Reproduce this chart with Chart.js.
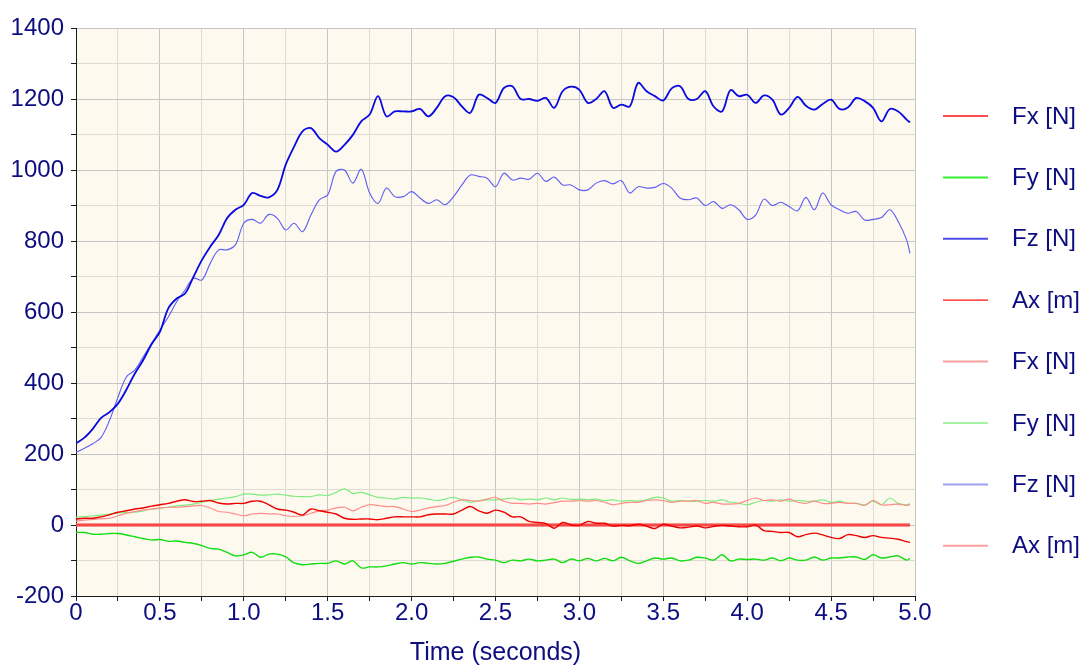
<!DOCTYPE html>
<html lang="en">
<head>
<meta charset="UTF-8">
<title>Force plot</title>
<script src="https://cdn.jsdelivr.net/npm/chart.js"></script>
<style>
  html, body { margin: 0; padding: 0; background: #fff; }
  .wrap { width: 1088px; height: 668px; }
</style>
</head>
<body>
<div class="wrap"><canvas id="forceChart" width="1088" height="668"></canvas></div>
<script>
// time axis (seconds)
const times = [
  0, 0.05, 0.1, 0.15, 0.2, 0.25, 0.3, 0.35, 0.4, 0.45,
  0.5, 0.55, 0.6, 0.65, 0.7, 0.75, 0.8, 0.85, 0.9, 0.95,
  1.0, 1.05, 1.1, 1.15, 1.2, 1.25, 1.3, 1.35, 1.4, 1.45,
  1.5, 1.55, 1.6, 1.65, 1.7, 1.75, 1.8, 1.85, 1.9, 1.95,
  2.0, 2.05, 2.1, 2.15, 2.2, 2.25, 2.3, 2.35, 2.4, 2.45,
  2.5, 2.55, 2.6, 2.65, 2.7, 2.75, 2.8, 2.85, 2.9, 2.95,
  3.0, 3.05, 3.1, 3.15, 3.2, 3.25, 3.3, 3.35, 3.4, 3.45,
  3.5, 3.55, 3.6, 3.65, 3.7, 3.75, 3.8, 3.85, 3.9, 3.95,
  4.0, 4.05, 4.1, 4.15, 4.2, 4.25, 4.3, 4.35, 4.4, 4.45,
  4.5, 4.55, 4.6, 4.65, 4.7, 4.75, 4.8, 4.85, 4.9, 4.95, 4.97
];

// first run
const fx1 = [
  17, 19, 19, 23, 29, 36, 40, 45, 48, 53,
  57, 61, 67, 71, 66, 67, 69, 62, 59, 61,
  61, 67, 67, 57, 45, 42, 36, 28, 45, 40,
  36, 31, 19, 16, 17, 17, 15, 19, 23, 23,
  23, 23, 29, 31, 31, 31, 42, 52, 40, 33,
  42, 36, 23, 23, 10, 7, 4, -9, 7, 0,
  -1, 10, 5, 5, -3, -1, -2, 2, -3, -10,
  2, -3, -8, -6, -3, -8, -4, -1, -3, -5,
  -5, 0, -16, -18, -21, -21, -33, -27, -23, -28,
  -35, -38, -27, -30, -35, -30, -35, -37, -40, -47, -49
];
const fy1 = [
  -21, -21, -26, -26, -24, -24, -28, -33, -38, -42,
  -41, -46, -45, -49, -52, -58, -66, -68, -77, -87,
  -84, -77, -91, -82, -82, -90, -107, -112, -110, -108,
  -108, -101, -110, -101, -121, -118, -118, -115, -110, -106,
  -110, -106, -108, -110, -108, -102, -96, -91, -90, -96,
  -99, -106, -99, -101, -96, -101, -99, -96, -106, -96,
  -101, -94, -101, -94, -101, -91, -101, -108, -101, -93,
  -96, -93, -101, -99, -91, -93, -99, -84, -101, -96,
  -97, -96, -99, -93, -101, -93, -99, -99, -90, -99,
  -93, -93, -90, -90, -97, -84, -93, -90, -87, -99, -94
];
const fz1 = [
  230, 246, 271, 302, 318, 342, 381, 426, 464, 509,
  544, 610, 638, 652, 699, 746, 784, 817, 864, 888,
  902, 935, 927, 923, 944, 1015, 1066, 1109, 1118, 1090,
  1071, 1052, 1071, 1099, 1137, 1156, 1208, 1151, 1165, 1165,
  1165, 1172, 1151, 1175, 1208, 1205, 1179, 1161, 1212, 1203,
  1189, 1231, 1236, 1200, 1200, 1195, 1203, 1175, 1222, 1235,
  1226, 1189, 1200, 1222, 1175, 1184, 1179, 1245, 1222, 1208,
  1196, 1230, 1236, 1200, 1200, 1222, 1179, 1165, 1225, 1208,
  1212, 1189, 1210, 1198, 1156, 1175, 1206, 1181, 1170, 1186,
  1198, 1172, 1176, 1203, 1194, 1175, 1137, 1172, 1165, 1142, 1134
];

// second run
const fx2 = [
  10, 14, 16, 18, 19, 26, 33, 38, 42, 45,
  48, 50, 50, 52, 54, 55, 48, 38, 36, 31,
  26, 31, 33, 31, 31, 26, 24, 26, 33, 40,
  42, 48, 50, 40, 50, 57, 55, 52, 52, 45,
  38, 42, 48, 52, 55, 64, 71, 69, 67, 73,
  78, 67, 61, 61, 59, 61, 59, 63, 67, 67,
  69, 67, 69, 64, 57, 61, 64, 64, 69, 71,
  69, 64, 67, 67, 69, 61, 64, 59, 59, 61,
  69, 76, 69, 71, 67, 73, 64, 61, 67, 61,
  61, 64, 61, 61, 55, 69, 57, 57, 59, 55, 58
];
const fy2 = [
  22, 24, 26, 28, 31, 34, 35, 36, 40, 45,
  47, 50, 54, 56, 59, 64, 69, 73, 76, 80,
  87, 87, 84, 85, 87, 84, 81, 80, 80, 85,
  83, 92, 102, 89, 92, 85, 78, 76, 73, 78,
  76, 76, 73, 69, 73, 78, 71, 64, 69, 71,
  71, 73, 76, 71, 73, 71, 76, 71, 76, 72,
  73, 71, 73, 69, 71, 67, 69, 67, 71, 78,
  76, 67, 69, 67, 67, 69, 67, 71, 64, 61,
  57, 64, 69, 67, 71, 67, 69, 67, 67, 71,
  64, 67, 61, 61, 57, 67, 57, 76, 61, 57, 60
];
const fz2 = [
  205, 216, 229, 247, 295, 360, 417, 436, 473, 511,
  549, 586, 629, 662, 695, 690, 737, 775, 775, 789,
  850, 861, 850, 875, 864, 831, 850, 826, 873, 916,
  930, 996, 1000, 963, 1002, 935, 906, 949, 925, 925,
  939, 921, 906, 916, 902, 925, 958, 986, 982, 977,
  953, 991, 972, 977, 974, 991, 968, 980, 958, 958,
  944, 944, 963, 970, 961, 970, 935, 953, 949, 951,
  962, 949, 921, 916, 921, 900, 911, 892, 902, 888,
  861, 873, 918, 900, 909, 897, 885, 923, 888, 935,
  902, 888, 878, 883, 859, 861, 866, 888, 855, 803, 765
];

// Ax stays flat at zero for both runs
const axTimes = [0, 4.97];
const ax1 = [0, 0];
const ax2 = [0, 0];

const seriesNames = ['Fx [N]', 'Fy [N]', 'Fz [N]', 'Ax [m]', 'Fx [N]', 'Fy [N]', 'Fz [N]', 'Ax [m]'];

const navy = '#0d0d80';
const fontFam = 'Arial, "Liberation Sans", sans-serif';

function pts(xs, ys) {
  return ys.map((v, i) => ({ x: xs[i], y: v }));
}

function line(label, xs, ys, color, width, legendColor, legendWidth) {
  return {
    label: label,
    data: pts(xs, ys),
    borderColor: color,
    borderWidth: width,
    pointRadius: 0,
    tension: 0.35,
    fill: false,
    legendColor: legendColor,
    legendWidth: legendWidth
  };
}

// cream plot background
const plotBg = {
  id: 'plotBg',
  beforeDraw(chart) {
    const { ctx, chartArea: a } = chart;
    ctx.save();
    ctx.fillStyle = '#ffffff';
    ctx.fillRect(0, 0, chart.width, chart.height);
    ctx.fillStyle = '#fdf9ee';
    ctx.fillRect(a.left, a.top, a.right - a.left, a.bottom - a.top);
    ctx.restore();
  }
};

// legend down the right side
const sideLegend = {
  id: 'sideLegend',
  afterDraw(chart) {
    const ctx = chart.ctx;
    ctx.save();
    ctx.font = '24px ' + fontFam;
    ctx.textBaseline = 'middle';
    ctx.fillStyle = navy;
    chart.data.datasets.forEach((ds, i) => {
      const y = 116 + i * 61.4;
      ctx.beginPath();
      ctx.strokeStyle = ds.legendColor;
      ctx.lineWidth = ds.legendWidth;
      ctx.moveTo(943, y);
      ctx.lineTo(988, y);
      ctx.stroke();
      ctx.fillText(ds.label, 1012, y + 1);
    });
    ctx.restore();
  }
};

const datasets = [
  line(seriesNames[0], times, fx1, '#ee0000', 1.4, '#ff1010', 1.3),
  line(seriesNames[1], times, fy1, '#11dd11', 1.4, '#33ee33', 2),
  line(seriesNames[2], times, fz1, '#0808e0', 1.8, '#4c4ce6', 2),
  line(seriesNames[3], axTimes, ax1, '#ff2020', 1.2, '#ff1010', 1.3),
  line(seriesNames[4], times, fx2, '#ff8a8a', 1.2, '#ffa0a0', 2),
  line(seriesNames[5], times, fy2, '#7eec7e', 1.2, '#88ee88', 1.3),
  line(seriesNames[6], times, fz2, '#5c5cf4', 1.1, '#a0a0f0', 2),
  line(seriesNames[7], axTimes, ax2, '#f07070', 3.5, '#ffa0a0', 2)
];

function isMajorX(v) { return Math.abs(v * 2 - Math.round(v * 2)) < 1e-6; }
function isMajorY(v) { return v % 200 === 0; }

new Chart(document.getElementById('forceChart'), {
  type: 'line',
  data: { datasets: datasets },
  options: {
    responsive: false,
    animation: false,
    devicePixelRatio: 1,
    layout: { padding: { left: 0, top: 28, right: 173, bottom: 0 } },
    plugins: {
      legend: { display: false },
      tooltip: { enabled: false }
    },
    scales: {
      x: {
        type: 'linear',
        min: 0,
        max: 5,
        border: { display: true, color: '#1a1a1a', width: 1 },
        grid: {
          color: c => (c.tick && isMajorX(c.tick.value)) ? '#c6c6c6' : '#dedbd2',
          tickColor: '#1a1a1a',
          tickLength: 5
        },
        ticks: {
          stepSize: 0.25,
          autoSkip: false,
          maxRotation: 0,
          padding: -2,
          color: navy,
          font: { family: fontFam, size: 24 },
          callback: v => isMajorX(v) ? (v === 0 ? '0' : v.toFixed(1)) : ''
        },
        title: {
          display: true,
          text: 'Time (seconds)',
          color: navy,
          font: { family: fontFam, size: 25 },
          padding: { top: 4, bottom: 0 }
        },
        afterFit: s => { s.height = 72; }
      },
      y: {
        min: -200,
        max: 1400,
        border: { display: true, color: '#1a1a1a', width: 1 },
        grid: {
          color: c => (c.tick && isMajorY(c.tick.value)) ? '#c6c6c6' : '#dedbd2',
          tickColor: '#1a1a1a',
          tickLength: 5
        },
        ticks: {
          stepSize: 100,
          autoSkip: false,
          padding: 7,
          color: navy,
          font: { family: fontFam, size: 24 },
          callback: v => isMajorY(v) ? String(v) : ''
        },
        afterFit: s => { s.width = 76; }
      }
    }
  },
  plugins: [plotBg, sideLegend]
});
</script>
</body>
</html>
